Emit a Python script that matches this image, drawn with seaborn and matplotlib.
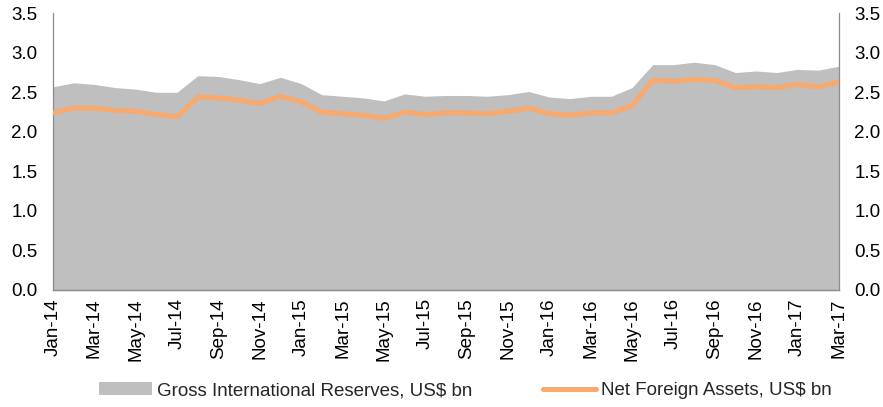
import matplotlib
matplotlib.use("Agg")
import matplotlib.pyplot as plt
from matplotlib.patches import Patch
from matplotlib.lines import Line2D
import numpy as np
import pandas as pd
import seaborn as sns

months = [
    "Jan-14", "Feb-14", "Mar-14", "Apr-14", "May-14", "Jun-14", "Jul-14", "Aug-14",
    "Sep-14", "Oct-14", "Nov-14", "Dec-14", "Jan-15", "Feb-15", "Mar-15", "Apr-15",
    "May-15", "Jun-15", "Jul-15", "Aug-15", "Sep-15", "Oct-15", "Nov-15", "Dec-15",
    "Jan-16", "Feb-16", "Mar-16", "Apr-16", "May-16", "Jun-16", "Jul-16", "Aug-16",
    "Sep-16", "Oct-16", "Nov-16", "Dec-16", "Jan-17", "Feb-17", "Mar-17",
]
gross_reserves = [
    2.57, 2.62, 2.60, 2.56, 2.54, 2.50, 2.50, 2.71, 2.70, 2.66, 2.61, 2.69, 2.61,
    2.47, 2.45, 2.43, 2.39, 2.48, 2.45, 2.46, 2.46, 2.45, 2.47, 2.51, 2.44, 2.42,
    2.45, 2.45, 2.56, 2.85, 2.85, 2.88, 2.85, 2.75, 2.77, 2.75, 2.79, 2.78, 2.83,
]
net_foreign_assets = [
    2.24, 2.30, 2.30, 2.27, 2.26, 2.22, 2.19, 2.44, 2.43, 2.40, 2.36, 2.45, 2.38,
    2.25, 2.23, 2.21, 2.17, 2.25, 2.22, 2.24, 2.24, 2.23, 2.26, 2.30, 2.23, 2.21,
    2.24, 2.24, 2.33, 2.65, 2.64, 2.66, 2.65, 2.56, 2.57, 2.56, 2.60, 2.57, 2.63,
]
y_ticks = [0.0, 0.5, 1.0, 1.5, 2.0, 2.5, 3.0, 3.5]

df = pd.DataFrame({
    "month": months,
    "pos": np.arange(len(months)),
    "gross": gross_reserves,
    "nfa": net_foreign_assets,
})

sns.set_theme(style="white")
plt.rcParams["font.family"] = ["Liberation Sans", "DejaVu Sans"]
plt.rcParams["font.size"] = 13.5

GRAY = "#BFBFBF"
ORANGE = "#F7A96E"
SPINE = "#8C8C8C"
FS = 13.5

fig = plt.figure(figsize=(8.83, 4.07), dpi=100)
ax = fig.add_axes([0.060, 0.2875, 0.890, 0.680])

# gross reserves as a filled area on the primary axis
ax.fill_between(df["pos"], 0, df["gross"], color=GRAY, linewidth=0, zorder=1)

# net foreign assets as a line on the secondary axis
ax2 = ax.twinx()
sns.lineplot(data=df, x="pos", y="nfa", ax=ax2, color=ORANGE, linewidth=3.6,
             solid_capstyle="round", solid_joinstyle="round", zorder=3)

for a in (ax, ax2):
    a.set_xlim(0, len(months) - 1)
    a.set_ylim(0, 3.5)
    a.set_yticks(y_ticks)
    a.set_yticklabels([f"{v:.1f}" for v in y_ticks], fontsize=FS, color="#000000")
    a.set_xlabel("")
    a.set_ylabel("")
    a.tick_params(length=0, pad=11)
    a.grid(False)
    a.spines["top"].set_visible(False)
    for s in ("left", "right", "bottom"):
        a.spines[s].set_color(SPINE)
        a.spines[s].set_linewidth(0.9)
    a.patch.set_visible(False)

ax.spines["right"].set_visible(False)
ax2.spines["left"].set_visible(False)

tick_pos = df["pos"][::2]
ax.set_xticks(tick_pos)
ax.set_xticklabels(df["month"][::2], rotation=90, fontsize=FS, color="#000000")
ax.tick_params(axis="x", pad=6)

handles = [
    Patch(facecolor=GRAY, edgecolor="none"),
    Line2D([0], [0], color=ORANGE, linewidth=3.6, solid_capstyle="round"),
]
labels = ["Gross International Reserves, US$ bn", "Net Foreign Assets, US$ bn"]
fig.legend(handles, labels, loc="center", bbox_to_anchor=(0.527, 0.04), ncol=2,
           frameon=False, fontsize=FS, handlelength=2.8, handleheight=0.7,
           handletextpad=0.27, columnspacing=3.8)

fig.savefig("out.png", dpi=100)
